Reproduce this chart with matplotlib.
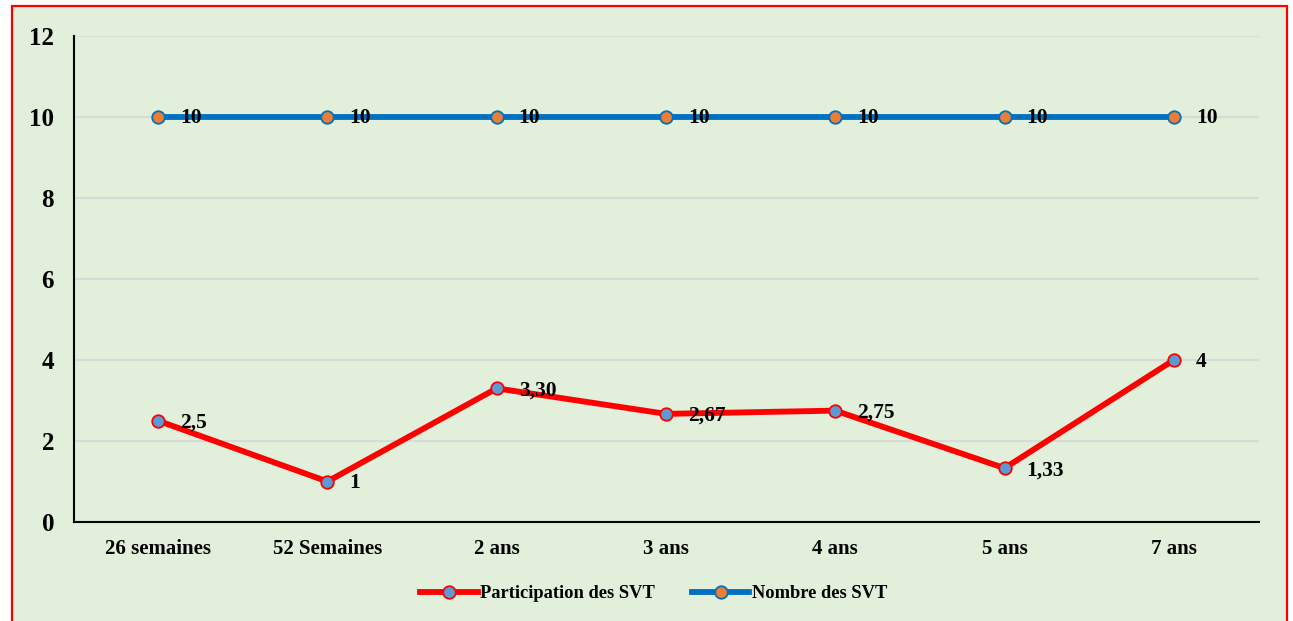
import matplotlib
matplotlib.use("Agg")
import matplotlib.pyplot as plt
from matplotlib.patches import Rectangle

categories = ["26 semaines", "52 Semaines", "2 ans", "3 ans", "4 ans", "5 ans", "7 ans"]
participation = [2.5, 1, 3.30, 2.67, 2.75, 1.33, 4]
participation_labels = ["2,5", "1", "3,30", "2,67", "2,75", "1,33", "4"]
nombre = [10, 10, 10, 10, 10, 10, 10]
nombre_labels = ["10", "10", "10", "10", "10", "10", "10"]
yticks = [0, 2, 4, 6, 8, 10, 12]

plt.rcParams['font.family'] = ['Liberation Serif', 'DejaVu Serif']
plt.rcParams['font.weight'] = 'bold'

W, H = 1293, 621
fig = plt.figure(figsize=(W / 100, H / 100), dpi=100, facecolor='white')

bg = '#E2EFDA'
fig.patches.append(Rectangle((12 / W, -0.02), (1287 - 12) / W, (H - 6) / H + 0.02,
                             transform=fig.transFigure, facecolor=bg,
                             edgecolor='#FF0000', linewidth=1.6, zorder=-5))

ax = fig.add_axes([73.5 / W, (H - 522) / H, (1258.5 - 73.5) / W, (522 - 36) / H])
ax.set_zorder(1)
ax.set_facecolor('none')
x = list(range(len(categories)))

ax.plot(x, participation, color='#FF0000', linewidth=4.2, marker='o', markersize=9,
        markerfacecolor='#5B9BD5', markeredgecolor='#FF0000', markeredgewidth=1.3,
        label='Participation des SVT', zorder=3)
ax.plot(x, nombre, color='#0070C0', linewidth=4.2, marker='o', markersize=9,
        markerfacecolor='#ED7D31', markeredgecolor='#0070C0', markeredgewidth=1.3,
        label='Nombre des SVT', zorder=3)

for xi, yi, lab in zip(x, participation, participation_labels):
    ax.annotate(lab, (xi, yi), xytext=(22, -2), textcoords='offset pixels',
                ha='left', va='center', fontsize=15.5, fontweight='bold', zorder=4)
for xi, yi, lab in zip(x, nombre, nombre_labels):
    ax.annotate(lab, (xi, yi), xytext=(22, -1), textcoords='offset pixels',
                ha='left', va='center', fontsize=15.5, fontweight='bold', zorder=4)

ax.set_xlim(-0.5, len(categories) - 0.5)
ax.set_ylim(0, 12)
ax.set_yticks(yticks)
ax.set_yticklabels([str(v) for v in yticks], fontsize=18, fontweight='bold')
ax.set_xticks(x)
ax.set_xticklabels(categories, fontsize=15, fontweight='bold')
ax.grid(axis='y', color='#D9D9D9', linewidth=1.5)
ax.set_axisbelow(True)
for s in ['top', 'right']:
    ax.spines[s].set_visible(False)
ax.spines['left'].set_color('black')
ax.spines['bottom'].set_color('black')
ax.spines['left'].set_linewidth(1.5)
ax.spines['bottom'].set_linewidth(1.5)
ax.tick_params(axis='x', length=0, pad=12)
ax.tick_params(axis='y', length=0, pad=14)

leg = fig.legend(loc='center', bbox_to_anchor=(654 / W, (H - 594) / H), ncol=2,
                 frameon=False, prop={'size': 13.3, 'weight': 'bold'},
                 handlelength=3.1, columnspacing=2.0, handletextpad=0.15)

fig.savefig('out.png', dpi=100, facecolor='white')
